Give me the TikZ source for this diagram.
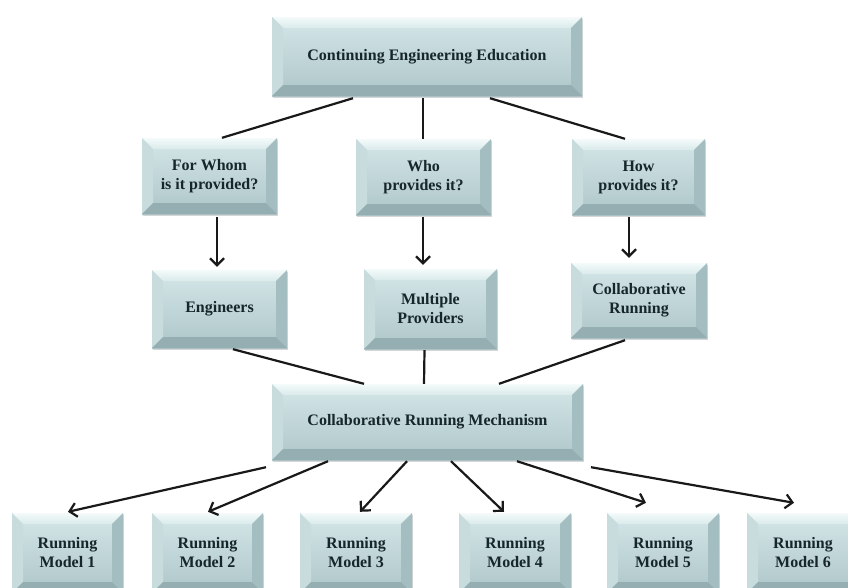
\documentclass[tikz,border=0pt]{standalone}
\usepackage{fontspec}
\setmainfont{Liberation Serif}
\usetikzlibrary{arrows.meta,shadows}
\definecolor{facetop}{HTML}{D4E6E8}
\definecolor{facebot}{HTML}{AEC6C9}
\definecolor{bvtopa}{HTML}{F4FAFA}
\definecolor{bvtopb}{HTML}{DAEAEB}
\definecolor{bvleft}{HTML}{C8DCDE}
\definecolor{bvright}{HTML}{A4BDC0}
\definecolor{bvbot}{HTML}{95AEB1}
\definecolor{txt}{HTML}{16262A}
\def\bevw{11pt}
\tikzset{
  bevel/.style={rectangle, inner sep=0pt, top color=facetop, bottom color=facebot,
    align=center, font=\bfseries\fontsize{16}{19}\selectfont, text=txt,
    drop shadow={shadow xshift=0.5pt,shadow yshift=-2pt,fill=black!35,opacity=.45},
    path picture={
      \path (path picture bounding box.north west) coordinate (ppnw)
            (path picture bounding box.north east) coordinate (ppne)
            (path picture bounding box.south west) coordinate (ppsw)
            (path picture bounding box.south east) coordinate (ppse);
      \shade[top color=bvtopa,bottom color=bvtopb] (ppnw) -- (ppne) -- ([xshift=-\bevw,yshift=-\bevw]ppne) -- ([xshift=\bevw,yshift=-\bevw]ppnw) -- cycle;
      \fill[bvleft] (ppnw) -- ([xshift=\bevw,yshift=-\bevw]ppnw) -- ([xshift=\bevw,yshift=\bevw]ppsw) -- (ppsw) -- cycle;
      \fill[bvright] (ppne) -- ([xshift=-\bevw,yshift=-\bevw]ppne) -- ([xshift=-\bevw,yshift=\bevw]ppse) -- (ppse) -- cycle;
      \fill[bvbot] (ppsw) -- ([xshift=\bevw,yshift=\bevw]ppsw) -- ([xshift=-\bevw,yshift=\bevw]ppse) -- (ppse) -- cycle;
    }},
  boxsize/.style 2 args={minimum width=#1pt, minimum height=#2pt},
  ln/.style={line width=2.2pt, black!90},
  arr/.style={line width=2.2pt, black!90, -{Straight Barb[length=7pt,width=14pt]}}
}
\begin{document}
\begin{tikzpicture}[x=1pt,y=-1pt]
\useasboundingbox[fill=white] (0,0) rectangle (848,587);
% boxes
\node[bevel, boxsize={310}{79}] (top) at (427,56.5) {Continuing Engineering Education};
\node[bevel, boxsize={135}{76}] (forwhom) at (209.5,176) {For Whom\\is it provided?};
\node[bevel, boxsize={135}{76}] (who) at (423.5,177) {Who\\provides it?};
\node[bevel, boxsize={133}{76}] (how) at (638.5,177) {How\\provides it?};
\node[bevel, boxsize={135}{78}] (eng) at (219.5,309) {Engineers};
\node[bevel, boxsize={133}{80}] (mp) at (430.5,309) {Multiple\\Providers};
\node[bevel, boxsize={136}{75}] (cr) at (639,300.5) {Collaborative\\Running};
\node[bevel, boxsize={311}{76}] (mech) at (427.5,422) {Collaborative Running Mechanism};
\node[bevel, boxsize={111}{80}] (m1) at (67.5,553) {Running\\Model 1};
\node[bevel, boxsize={111}{80}] (m2) at (207.5,553) {Running\\Model 2};
\node[bevel, boxsize={112}{80}] (m3) at (356,553) {Running\\Model 3};
\node[bevel, boxsize={112}{80}] (m4) at (515,553) {Running\\Model 4};
\node[bevel, boxsize={112}{80}] (m5) at (663,553) {Running\\Model 5};
\node[bevel, boxsize={112}{80}] (m6) at (803,553) {Running\\Model 6};
% top to questions
\draw[ln] ([xshift=-74pt,yshift=-2pt]top.south) -- ([xshift=12.5pt]forwhom.north);
\draw[ln] ([xshift=-4pt,yshift=-2pt]top.south) -- ([xshift=-0.5pt]who.north);
\draw[ln] ([xshift=63pt,yshift=-2pt]top.south) -- ([xshift=-13.5pt]how.north);
% questions to answers
\draw[arr] ([xshift=7.5pt,yshift=-3pt]forwhom.south) -- ([xshift=-2.5pt,yshift=3pt]eng.north);
\draw[arr] ([xshift=-0.5pt,yshift=-2pt]who.south) -- ([xshift=-7.5pt,yshift=4pt]mp.north);
\draw[arr] ([xshift=-9.5pt,yshift=-2pt]how.south) -- ([xshift=-10pt,yshift=5pt]cr.north);
% answers to mechanism
\draw[ln] ([xshift=13.5pt,yshift=-1pt]eng.south) -- ([xshift=-63.5pt]mech.north);
\draw[ln] ([xshift=-6pt,yshift=-1pt]mp.south) -- ([xshift=-3.5pt]mech.north);
\draw[ln] ([xshift=-14pt,yshift=-2pt]cr.south) -- ([xshift=71.5pt]mech.north);
% mechanism to models
\draw[arr] ([xshift=-161.5pt,yshift=-7pt]mech.south) -- ([xshift=0.5pt,yshift=1pt]m1.north);
\draw[arr] ([xshift=-99.5pt,yshift=-1pt]mech.south) -- ([xshift=0.5pt,yshift=1pt]m2.north);
\draw[arr] ([xshift=-20.5pt,yshift=-1pt]mech.south) -- ([xshift=4pt,yshift=1pt]m3.north);
\draw[arr] ([xshift=23.5pt,yshift=-1pt]mech.south) -- ([xshift=-11pt,yshift=1pt]m4.north);
\draw[arr] ([xshift=89.5pt,yshift=-1pt]mech.south) -- ([xshift=-17pt,yshift=10pt]m5.north);
\draw[arr] ([xshift=163.5pt,yshift=-7pt]mech.south) -- ([xshift=-9pt,yshift=10pt]m6.north);
\end{tikzpicture}
\end{document}
